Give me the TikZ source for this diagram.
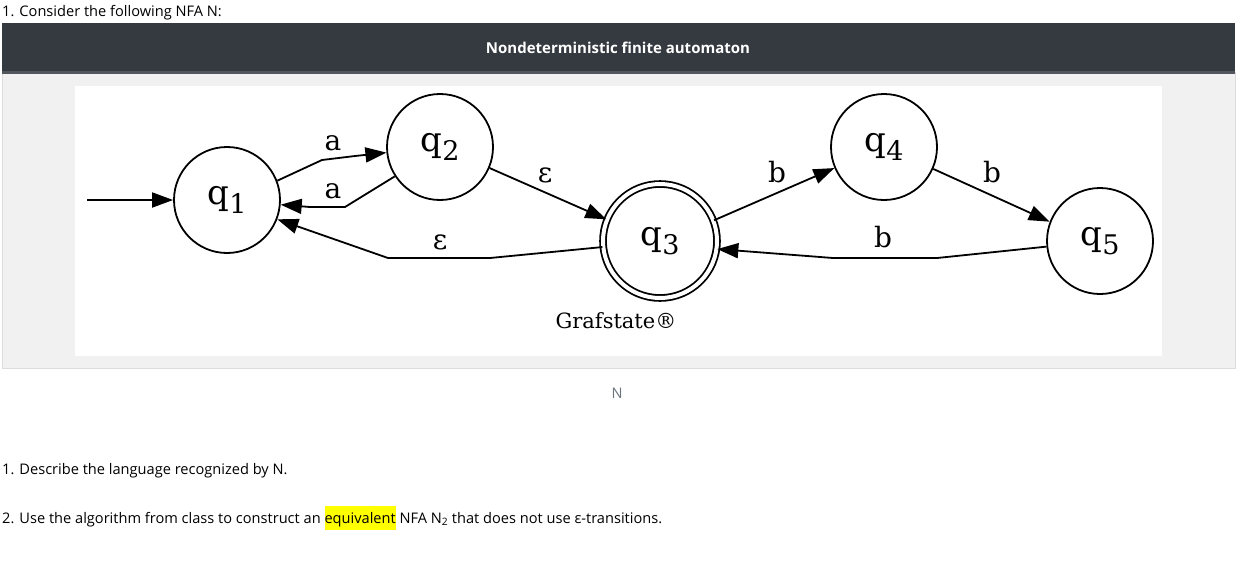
\documentclass[tikz,border=0pt]{standalone}
\usepackage{fontspec}
\usetikzlibrary{arrows.meta}
\newfontfamily\uifont{Open Sans}
\newfontfamily\gvfont{DejaVu Serif}
\definecolor{hdr}{HTML}{343A40}
\definecolor{panel}{HTML}{F1F1F1}
\definecolor{panelborder}{HTML}{DDDDDD}
\definecolor{hl}{HTML}{FFFF00}
\definecolor{ncap}{HTML}{6C757D}
\newcommand{\qlab}[1]{\fontsize{34}{34}\selectfont q\raisebox{-9pt}{\fontsize{27}{27}\selectfont #1}}
\tikzset{
  state/.style={circle,draw,line width=1.8pt,minimum size=106pt,inner sep=0pt,font=\gvfont},
  accstate/.style={state,double,double distance=4pt,minimum size=114pt},
  edge/.style={line width=1.8pt,-{Triangle[length=21pt,width=15pt]}},
  elab/.style={font=\gvfont\fontsize{28}{28}\selectfont,inner sep=0pt},
  uitext/.style={font=\uifont\fontsize{14.6}{17}\selectfont,inner sep=0pt,anchor=base west}
}
\begin{document}
\begin{tikzpicture}[x=1pt,y=-1pt]
\useasboundingbox[fill=white] (0,0) rectangle (1241,576);
\node[uitext] (title) at (2,16) {1. Consider the following NFA N:};
% header and panel
\fill[panel,draw=panelborder] (2,72) rectangle (1235,368);
\fill[hdr] (2,23) rectangle (1235,72);
\fill[hdr!85!white] (2,71) rectangle (1235,74);
\node[font=\uifont\bfseries\fontsize{15}{17}\selectfont,text=white,inner sep=0pt] (head) at (618,48) {Nondeterministic finite automaton};
\fill[white] (75,86) rectangle (1162,356);
% states
\node[state] (q1) at (227,200) {\qlab{1}};
\node[state] (q2) at (440,147) {\qlab{2}};
\node[accstate] (q3) at (660,241) {\qlab{3}};
\node[state] (q4) at (884,147) {\qlab{4}};
\node[state] (q5) at (1100,241) {\qlab{5}};
\coordinate (start) at (87,200);
% edges
\draw[edge] (start) -- (q1);
\draw[edge] (q1.21) -- (322,160) -- (355,156) -- (q2.186);
\draw[edge] (q2.213) -- (345,207) -- (310,207) -- (q1.-5);
\draw[edge] (q2.-23) -- (q3.158);
\draw[edge] (q3.186) -- (490,258) -- (388,258) -- (q1.-21);
\draw[edge] (q3.21) -- (q4.203);
\draw[edge] (q4.-24) -- (q5.159);
\draw[edge] (q5.186) -- (937,258) -- (833,258) -- (q3.-8);
% labels
\node[elab] (la1) at (333,143) {a};
\node[elab] (la2) at (333,191) {a};
\node[elab] (le1) at (545,175) {ε};
\node[elab] (le2) at (440,242) {ε};
\node[elab] (lb1) at (777,172) {b};
\node[elab] (lb2) at (992,172) {b};
\node[elab] (lb3) at (883,237) {b};
\node[font=\gvfont\fontsize{21}{21}\selectfont,inner sep=0pt] (graf) at (616,321) {Grafstate®};
% caption and questions
\node[font=\uifont\fontsize{14.6}{17}\selectfont,text=ncap,inner sep=0pt] (cap) at (617,393) {N};
\node[uitext] (qa) at (2,474) {1. Describe the language recognized by N.};
\node[uitext] (qb) at (2,523) {2. Use the algorithm from class to construct an {\setlength{\fboxsep}{0pt}\colorbox{hl}{\rule[-7pt]{0pt}{24pt}equivalent}} NFA N\textsubscript{2} that does not use ε-transitions.};
\end{tikzpicture}
\end{document}
